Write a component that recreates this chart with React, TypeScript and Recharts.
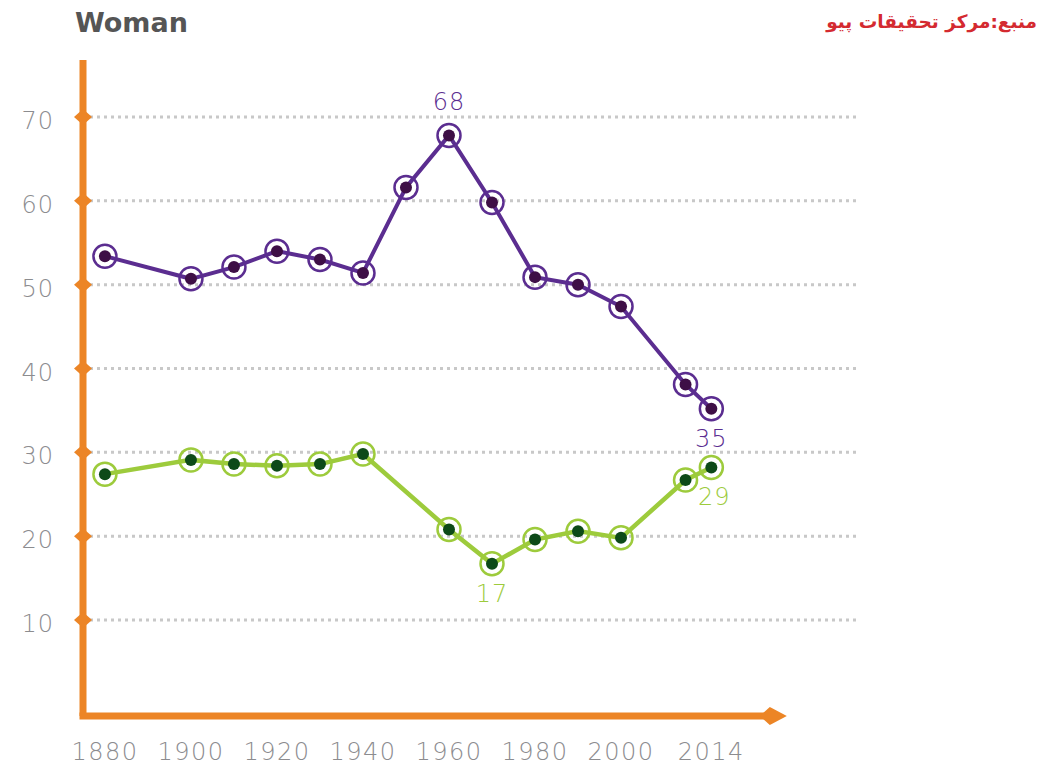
import React from 'react';
import {
  LineChart,
  Line,
  XAxis,
  YAxis,
  CartesianGrid,
  ReferenceLine,
  ReferenceDot,
  LabelList,
} from 'recharts';

// ---- Data ----
const years = [1880, 1900, 1910, 1920, 1930, 1940, 1950, 1960, 1970, 1980, 1990, 2000, 2010, 2014];
const purpleValues = [53.4, 50.7, 52.1, 54.0, 53.0, 51.4, 61.6, 67.8, 59.8, 50.9, 50.0, 47.4, 38.1, 35.2];
const greenValues: (number | null)[] = [27.4, 29.1, 28.6, 28.4, 28.6, 29.8, null, 20.8, 16.7, 19.6, 20.6, 19.8, 26.7, 28.2];
const purpleLabels = ['', '', '', '', '', '', '', '68', '', '', '', '', '', '35'];
const greenLabels = ['', '', '', '', '', '', '', '', '17', '', '', '', '', '29'];
const xTicks = [1880, 1900, 1920, 1940, 1960, 1980, 2000, 2014];
const yTicks = [10, 20, 30, 40, 50, 60, 70];
const titleText = 'Woman';
const sourceText = 'منبع:مرکز تحقیقات پیو';

// The reference's time axis is stretched after 2000 (2000→2014 is drawn wider
// than a 20-year step), so the axis uses a piecewise-linear time transform.
const STRETCH_FROM = 2000;
const STRETCH = 1.5;
const warp = (y: number) => (y <= STRETCH_FROM ? y : STRETCH_FROM + (y - STRETCH_FROM) * STRETCH);

const data = years.map((year, i) => ({
  year,
  t: warp(year),
  purple: purpleValues[i],
  green: greenValues[i],
  purpleLabel: purpleLabels[i],
  greenLabel: greenLabels[i],
}));

// ---- Layout / style ----
const X_DOMAIN: [number, number] = [1874.9, 2055.1]; // in transformed time units
const Y_DOMAIN: [number, number] = [-1.45, 76.8];
const AXIS_END = 2034.6; // transformed time units, where the x-axis arrow sits
const ORANGE = '#EC8526';
const PURPLE = '#5B2D90';
const PURPLE_DOT = '#3E0F46';
const GREEN = '#9DCB3C';
const GREEN_DOT = '#0D4A18';
const TICK_COLOR = '#8C8C8F';
const FONT = '"DejaVu Sans", sans-serif';

const makeDot = (ring: string, fill: string) => (props: any) => {
  const { cx, cy, value, index } = props;
  if (value == null || cx == null || cy == null || isNaN(cy)) return <g key={`d-${index}`} />;
  return (
    <g key={`d-${index}`}>
      <circle cx={cx} cy={cy} r={11.5} fill="none" stroke={ring} strokeWidth={2.5} />
      <circle cx={cx} cy={cy} r={6} fill={fill} />
    </g>
  );
};

const makeLabel = (color: string, aboveIdx: number[], dxMap: Record<number, number>) => (props: any) => {
  const { x, y, value, index } = props;
  if (!value) return null;
  const above = aboveIdx.includes(index);
  return (
    <text
      key={`l-${index}`}
      x={x + (dxMap[index] || 0)}
      y={above ? y - 25 : y + 38}
      textAnchor="middle"
      fill={color}
      fontFamily={FONT}
      fontWeight={200}
      fontSize={24}
      letterSpacing={1}
    >
      {value}
    </text>
  );
};

const YTick = (props: any) => {
  const { x, y, payload } = props;
  return (
    <g>
      <polygon points={`${x - 9},${y} ${x},${y - 8} ${x + 9},${y} ${x},${y + 8}`} fill={ORANGE} />
      <text
        x={x - 29}
        y={y + 12}
        textAnchor="end"
        fill={TICK_COLOR}
        fontFamily={FONT}
        fontWeight={200}
        fontSize={24}
        letterSpacing={1}
      >
        {payload.value}
      </text>
    </g>
  );
};

const XTick = (props: any) => {
  const { x, y, index } = props;
  return (
    <text
      x={x}
      y={y + 44}
      textAnchor="middle"
      fill={TICK_COLOR}
      fontFamily={FONT}
      fontWeight={200}
      fontSize={24}
      letterSpacing={1.5}
    >
      {xTicks[index]}
    </text>
  );
};

const ArrowHead = (props: any) => {
  const { cx, cy } = props;
  return (
    <polygon
      points={`${cx - 10},${cy} ${cx},${cy - 9} ${cx + 17},${cy} ${cx},${cy + 9}`}
      fill={ORANGE}
    />
  );
};

export default function App() {
  return (
    <div style={{ position: 'absolute', left: 0, top: 0, width: 1043, height: 768, background: '#fff' }}>
      <LineChart
        width={1043}
        height={768}
        data={data}
        margin={{ top: 60, right: 185, bottom: 12, left: 0 }}
      >
        <CartesianGrid
          vertical={false}
          horizontalValues={yTicks}
          stroke="#c8c8c8"
          strokeDasharray="3 4"
          strokeWidth={3}
        />
        <XAxis
          type="number"
          dataKey="t"
          domain={X_DOMAIN}
          ticks={xTicks.map(warp)}
          interval={0}
          allowDataOverflow
          axisLine={false}
          tickLine={false}
          tickSize={0}
          tickMargin={0}
          height={40}
          tick={<XTick />}
        />
        <YAxis
          type="number"
          domain={Y_DOMAIN}
          ticks={yTicks}
          interval={0}
          allowDataOverflow
          width={83}
          tickSize={0}
          tickMargin={0}
          tickLine={false}
          axisLine={{ stroke: ORANGE, strokeWidth: 7 }}
          tick={<YTick />}
        />
        <ReferenceLine
          segment={[
            { x: X_DOMAIN[0], y: Y_DOMAIN[0] },
            { x: AXIS_END, y: Y_DOMAIN[0] },
          ]}
          stroke={ORANGE}
          strokeWidth={7}
          strokeLinecap="square"
          ifOverflow="visible"
        />
        <ReferenceDot x={AXIS_END} y={Y_DOMAIN[0]} r={0} ifOverflow="visible" shape={ArrowHead} />
        <Line
          type="linear"
          dataKey="purple"
          stroke={PURPLE}
          strokeWidth={4}
          dot={makeDot(PURPLE, PURPLE_DOT)}
          activeDot={false}
          isAnimationActive={false}
          connectNulls
        >
          <LabelList dataKey="purpleLabel" content={makeLabel(PURPLE, [7], {})} />
        </Line>
        <Line
          type="linear"
          dataKey="green"
          stroke={GREEN}
          strokeWidth={4.5}
          dot={makeDot(GREEN, GREEN_DOT)}
          activeDot={false}
          isAnimationActive={false}
          connectNulls
        >
          <LabelList dataKey="greenLabel" content={makeLabel(GREEN, [], { 13: 3 })} />
        </Line>
      </LineChart>
      <svg
        width={1043}
        height={768}
        style={{ position: 'absolute', left: 0, top: 0, pointerEvents: 'none' }}
      >
        <text x={75} y={32} fill="#555555" fontFamily={FONT} fontWeight={700} fontSize={27}>
          {titleText}
        </text>
        <text x={1037} y={28} textAnchor="end" fill="#D42A30" fontFamily={FONT} fontWeight={700} fontSize={18.5}>
          {sourceText}
        </text>
      </svg>
    </div>
  );
}
